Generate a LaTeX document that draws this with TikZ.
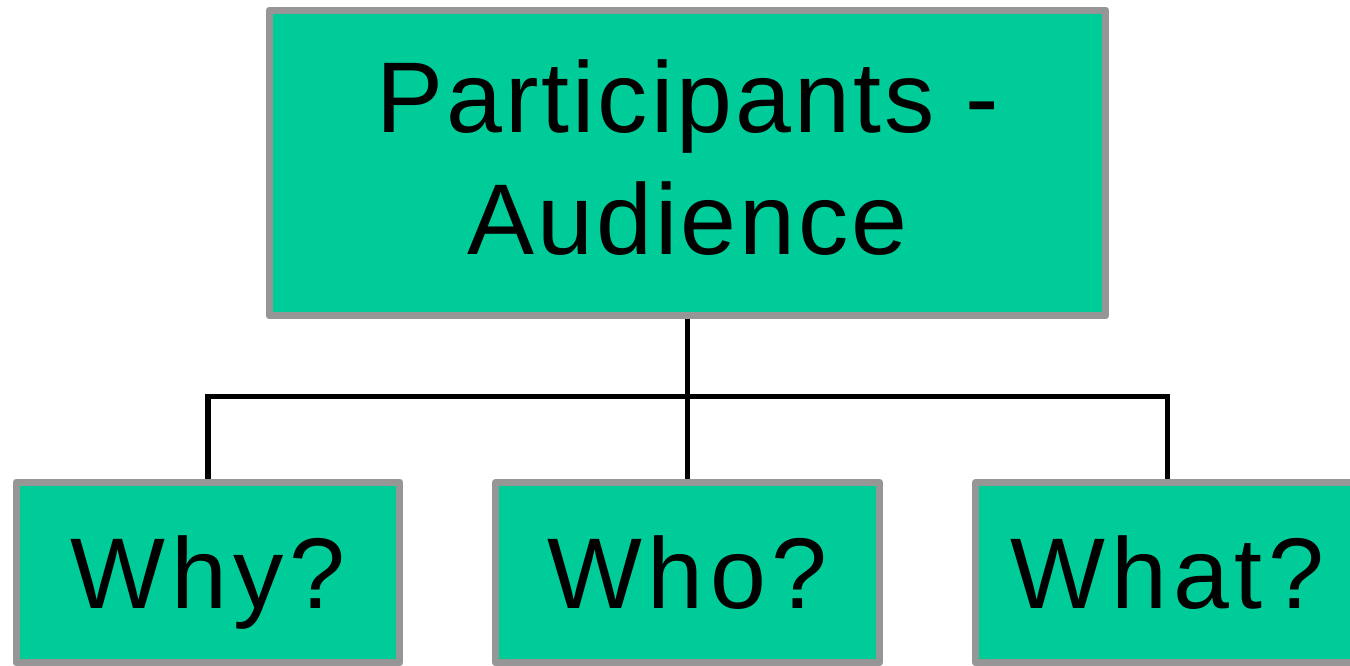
\documentclass[tikz,border=0pt]{standalone}
\usepackage{fontspec}
\setmainfont{Liberation Sans}
\newfontfamily\headfont{Liberation Sans}[LetterSpace=3]
\newfontfamily\leaffont{Liberation Sans}[LetterSpace=6]
\usetikzlibrary{positioning}

\begin{document}
\begin{tikzpicture}[x=0.02cm, y=-0.02cm]

% Define colors
\definecolor{boxgreen}{RGB}{0, 204, 153}
\definecolor{boxgray}{RGB}{150, 150, 150}

% Styles
\tikzset{
  box/.style={draw=boxgray, fill=boxgreen, line width=3.97pt, line join=round, inner sep=0pt},
  headbox/.style={box, minimum width=16.74cm, minimum height=6.12cm, align=center,
    font=\headfont\fontsize{57.2pt}{69.4pt}\selectfont, text height=110.4pt, text depth=6.8pt},
  leafbox/.style={box, minimum width=7.68cm, minimum height=3.62cm,
    font=\leaffont\fontsize{57.2pt}{69.4pt}\selectfont, text height=41pt, text depth=0pt},
  link/.style={line width=3.2pt}
}

% Picture frame
\useasboundingbox (0,0) rectangle (1350,666);
\clip (0,0) rectangle (1350,666);

% Draw the boxes
\node[headbox] (participants) at (687.5,163) {Participants -\\Audience};
\node[leafbox] (why) at (208,572.5) {Why?};
\node[leafbox] (who) at (687.5,572.5) {Who?};
\node[leafbox] (what) at (1167.5,572.5) {What?};

% Draw the connectors
\draw[link] (participants.south) -- (who.north);
\draw[link] (why.north) -- ++(0,-82) -| (what.north);

\end{tikzpicture}
\end{document}
